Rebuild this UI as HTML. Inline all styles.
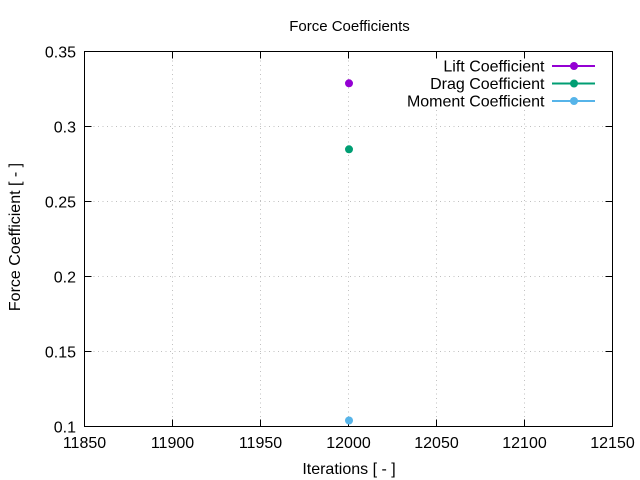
<!DOCTYPE html>
<html>
<head>
<meta charset="utf-8">
<style>
  html, body { margin: 0; padding: 0; background: #fff; }
  svg { display: block; }
  text { font-family: "Liberation Sans", Arial, sans-serif; fill: #000; }
</style>
</head>
<body>
<svg width="640" height="480" viewBox="0 0 640 480" xmlns="http://www.w3.org/2000/svg">
  <rect x="0" y="0" width="640" height="480" fill="#fff"/>

  <!-- grid -->
  <g stroke="#c0c0c0" stroke-width="1" stroke-dasharray="1,3.5" fill="none">
    <line x1="172.5" y1="51.5" x2="172.5" y2="426.5"/>
    <line x1="260.5" y1="51.5" x2="260.5" y2="426.5"/>
    <line x1="348.5" y1="51.5" x2="348.5" y2="426.5"/>
    <line x1="436.5" y1="51.5" x2="436.5" y2="426.5"/>
    <line x1="524.5" y1="51.5" x2="524.5" y2="426.5"/>
    <line x1="84.5" y1="126.5" x2="612.5" y2="126.5"/>
    <line x1="84.5" y1="201.5" x2="612.5" y2="201.5"/>
    <line x1="84.5" y1="276.5" x2="612.5" y2="276.5"/>
    <line x1="84.5" y1="351.5" x2="612.5" y2="351.5"/>
  </g>

  <!-- legend background -->
  <rect x="404" y="57" width="205" height="53" fill="#fff"/>

  <!-- ticks -->
  <g stroke="#000" stroke-width="1">
    <line x1="172.5" y1="426.5" x2="172.5" y2="419.5"/>
    <line x1="260.5" y1="426.5" x2="260.5" y2="419.5"/>
    <line x1="348.5" y1="426.5" x2="348.5" y2="419.5"/>
    <line x1="436.5" y1="426.5" x2="436.5" y2="419.5"/>
    <line x1="524.5" y1="426.5" x2="524.5" y2="419.5"/>
    <line x1="172.5" y1="51.5" x2="172.5" y2="58.5"/>
    <line x1="260.5" y1="51.5" x2="260.5" y2="58.5"/>
    <line x1="348.5" y1="51.5" x2="348.5" y2="58.5"/>
    <line x1="436.5" y1="51.5" x2="436.5" y2="58.5"/>
    <line x1="524.5" y1="51.5" x2="524.5" y2="58.5"/>
    <line x1="84.5" y1="126.5" x2="91.5" y2="126.5"/>
    <line x1="84.5" y1="201.5" x2="91.5" y2="201.5"/>
    <line x1="84.5" y1="276.5" x2="91.5" y2="276.5"/>
    <line x1="84.5" y1="351.5" x2="91.5" y2="351.5"/>
    <line x1="612.5" y1="126.5" x2="605.5" y2="126.5"/>
    <line x1="612.5" y1="201.5" x2="605.5" y2="201.5"/>
    <line x1="612.5" y1="276.5" x2="605.5" y2="276.5"/>
    <line x1="612.5" y1="351.5" x2="605.5" y2="351.5"/>
  </g>

  <!-- border -->
  <rect x="84.5" y="51.5" width="528" height="375" fill="none" stroke="#000" stroke-width="1"/>

  <!-- y tick labels -->
  <g font-size="16" text-anchor="end">
    <text x="76" y="57.5">0.35</text>
    <text x="76" y="132.5">0.3</text>
    <text x="76" y="207.5">0.25</text>
    <text x="76" y="282.5">0.2</text>
    <text x="76" y="357.5">0.15</text>
    <text x="76" y="432.5">0.1</text>
  </g>

  <!-- x tick labels -->
  <g font-size="16" text-anchor="middle">
    <text x="84.5" y="448">11850</text>
    <text x="172.5" y="448">11900</text>
    <text x="260.5" y="448">11950</text>
    <text x="348.5" y="448">12000</text>
    <text x="436.5" y="448">12050</text>
    <text x="524.5" y="448">12100</text>
    <text x="612.5" y="448">12150</text>
  </g>

  <!-- title and axis labels -->
  <text x="349.5" y="31" font-size="15" text-anchor="middle">Force Coefficients</text>
  <text x="349" y="474" font-size="16" text-anchor="middle">Iterations [ - ]</text>
  <text transform="translate(20,237) rotate(-90)" font-size="16" text-anchor="middle">Force Coefficient [ - ]</text>

  <!-- legend -->
  <g font-size="16" text-anchor="end">
    <text x="544.5" y="71.5">Lift Coefficient</text>
    <text x="544.5" y="89">Drag Coefficient</text>
    <text x="544.5" y="106.5">Moment Coefficient</text>
  </g>
  <line x1="552" y1="66" x2="595" y2="66" stroke="#9400d3" stroke-width="2"/>
  <circle cx="574" cy="66" r="4" fill="#9400d3"/>
  <line x1="552" y1="83.5" x2="595" y2="83.5" stroke="#009e73" stroke-width="2"/>
  <circle cx="574" cy="83.5" r="4" fill="#009e73"/>
  <line x1="552" y1="101" x2="595" y2="101" stroke="#56b4e9" stroke-width="2"/>
  <circle cx="574" cy="101" r="4" fill="#56b4e9"/>

  <!-- data points -->
  <circle cx="349" cy="83.3" r="4" fill="#9400d3"/>
  <circle cx="349" cy="149.3" r="4" fill="#009e73"/>
  <circle cx="349" cy="420.5" r="4" fill="#56b4e9"/>
</svg>
</body>
</html>
